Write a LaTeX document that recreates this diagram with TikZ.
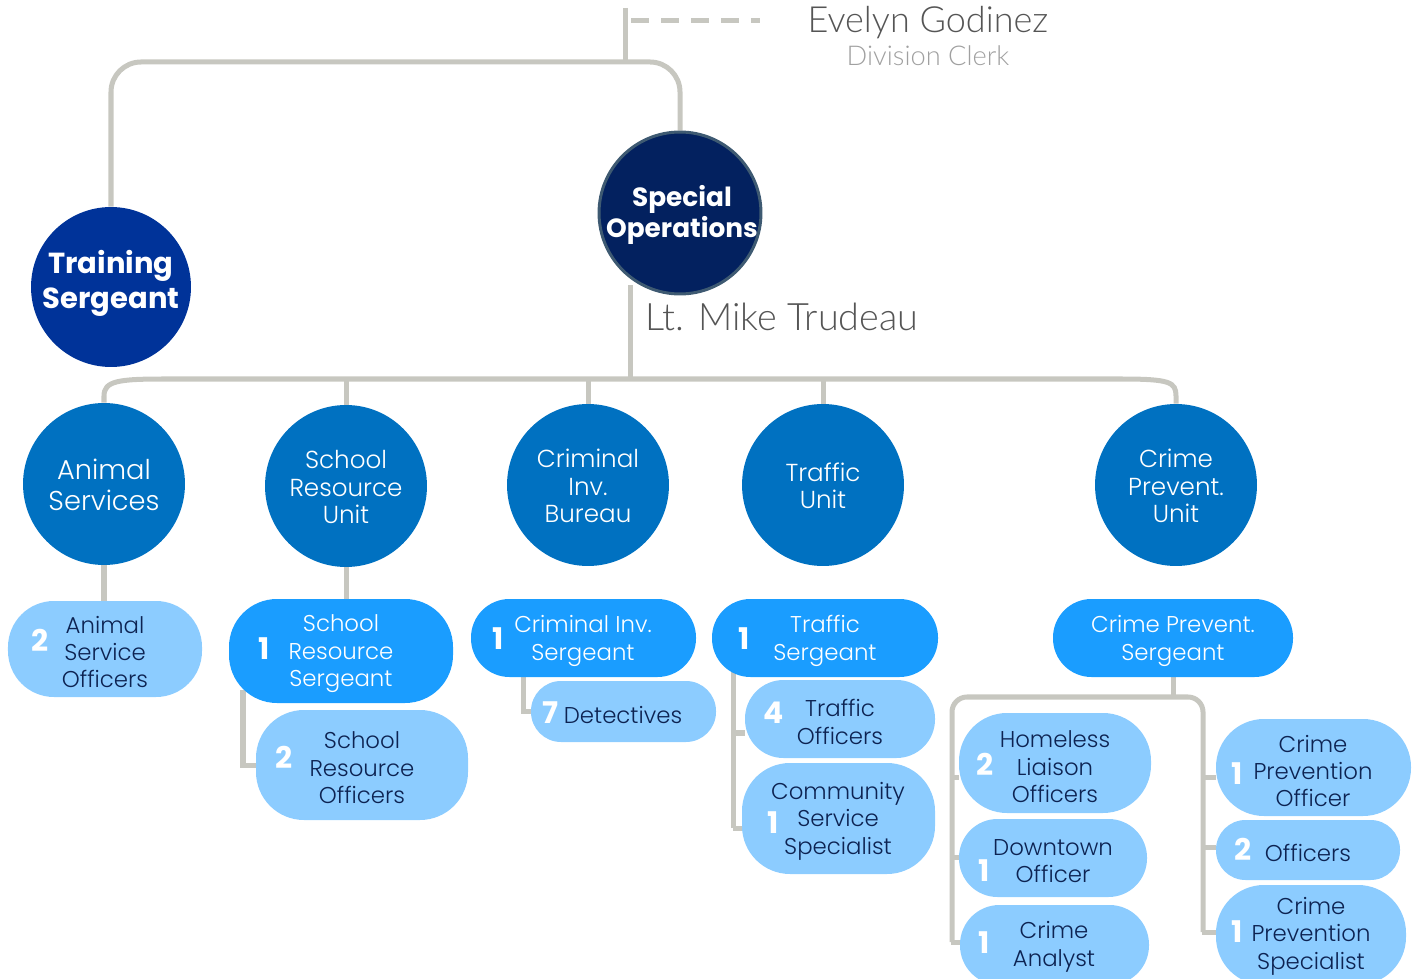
\documentclass[tikz,border=0pt]{standalone}
\usepackage{fontspec}
\setmainfont{Poppins}
\IfFontExistsTF{Poppins Light}{\newfontfamily\lightf{Poppins Light}}{\newfontfamily\lightf{Poppins}}
\IfFontExistsTF{Lato Light}{\newfontfamily\namef{Lato Light}}{\newfontfamily\namef{Lato}}
\newfontfamily\boldf{Poppins Bold}
\usetikzlibrary{backgrounds}
\definecolor{conncol}{RGB}{199,199,192}
\definecolor{trainblue}{RGB}{0,51,153}
\definecolor{sonavy}{RGB}{3,33,95}
\definecolor{soedge}{RGB}{62,90,114}
\definecolor{unitblue}{RGB}{0,113,193}
\definecolor{sgtblue}{RGB}{26,157,255}
\definecolor{offblue}{RGB}{140,204,255}
\definecolor{navytext}{RGB}{13,35,82}
\definecolor{greytext}{RGB}{85,85,85}
\definecolor{lightgrey}{RGB}{160,160,160}
\newcommand\mkpill[7]{%
  \pgfmathsetmacro\pcx{(#3+#4)/2}%
  \pgfmathsetmacro\pcy{(#5+#6)/2}%
  \pgfmathsetmacro\pw{(#4-#3)*0.02}%
  \pgfmathsetmacro\ph{(#6-#5)*0.02}%
  \pgfmathsetmacro\prad{min((#6-#5)/2-0.5,#7)*0.02}%
  \node[#2, minimum width=\pw cm, minimum height=\ph cm, rounded corners=\prad cm] (#1) at (\pcx,\pcy) {};}
\tikzset{
  conn/.style={draw=conncol, line width=2.85pt},
  unit/.style={circle, fill=unitblue, inner sep=0pt, minimum size=3.24cm},
  unittext/.style={text=white, align=center, font=\lightf\fontsize{14}{15.6}\selectfont},
  sgtpill/.style={rectangle, fill=sgtblue, inner sep=0pt},
  offpill/.style={rectangle, fill=offblue, inner sep=0pt},
  sgttext/.style={text=white, align=center, yshift=-0.06cm, font=\lightf\fontsize{13}{15.6}\selectfont},
  offtext/.style={text=navytext, align=center, yshift=-0.06cm, font=\lightf\fontsize{13}{15.6}\selectfont},
  num/.style={text=white, font=\boldf\fontsize{17}{18}\selectfont, inner sep=0pt},
}
\begin{document}
\begin{tikzpicture}[x=0.02cm,y=-0.02cm]
\useasboundingbox (0,0) rectangle (1416,979);

% top level
\node[circle, fill=trainblue, inner sep=0pt, minimum size=3.2cm] (ts) at (111,287) {};
\node[text=white, align=center, font=\boldf\fontsize{16.5}{20}\selectfont] (tst) at (111,283) {Training\\Sergeant};
\node[circle, fill=sonavy, draw=soedge, line width=1.7pt, inner sep=0pt, minimum size=3.24cm] (so) at (680,213) {};
\node[text=white, align=center, font=\boldf\fontsize{15}{18}\selectfont] (sot) at (682,215) {Special\\Operations};
\node[text=greytext, font=\namef\fontsize{21.5}{24}\selectfont, anchor=west, inner sep=0pt] (lt) at (645,317) {Lt. Mike Trudeau};
\node[text=greytext, font=\namef\fontsize{20.5}{24}\selectfont, inner sep=0pt] (ev) at (928,23) {Evelyn Godinez};
\node[text=lightgrey, font=\namef\fontsize{15.5}{18}\selectfont, inner sep=0pt] (dc) at (928,56) {Division Clerk};

% units
\node[unit] (as) at (104,484) {};
\node[text=white, align=center, font=\lightf\fontsize{15.5}{17.6}\selectfont] (ast) at (104,485) {Animal\\Services};
\node[unit] (sru) at (346,486) {};
\node[unittext] (srut) at (346,487) {School\\Resource\\Unit};
\node[unit] (cib) at (588,485) {};
\node[unittext] (cibt) at (588,486) {Criminal\\Inv.\\Bureau};
\node[unit] (tu) at (823,485) {};
\node[unittext] (tut) at (823,486) {Traffic\\Unit};
\node[unit] (cpu) at (1176,485) {};
\node[unittext] (cput) at (1176,486) {Crime\\Prevent.\\Unit};

% pills
\mkpill{ani}{offpill}{8}{202}{601}{697}{46}
\mkpill{srs}{sgtpill}{229}{453}{599}{703}{48}
\mkpill{sro}{offpill}{256}{468}{710}{820}{48}
\mkpill{cis}{sgtpill}{471}{696}{599}{677}{48}
\mkpill{det}{offpill}{531}{716}{681}{742}{48}
\mkpill{trs}{sgtpill}{712}{938}{599}{677}{48}
\mkpill{tro}{offpill}{745}{935}{680}{758}{48}
\mkpill{css}{offpill}{742}{935}{763}{874}{48}
\mkpill{cps}{sgtpill}{1053}{1293}{599}{677}{48}
\mkpill{hom}{offpill}{959}{1151}{713}{813}{48}
\mkpill{dto}{offpill}{959}{1147}{819}{897}{48}
\mkpill{can}{offpill}{960}{1149}{905}{985}{48}
\mkpill{cpo}{offpill}{1216}{1411}{719}{816}{48}
\mkpill{off}{offpill}{1216}{1400}{820}{880}{48}
\mkpill{cpsp}{offpill}{1216}{1406}{885}{985}{48}

% pill texts
\node[offtext] (anit) at (105,649) {Animal\\Service\\Officers};
\node[num] (anin) at (40,640) {2};
\node[sgttext] (srst) at (341,651) {School\\Resource\\Sergeant};
\node[num] (srsn) at (264,649) {1};
\node[offtext] (srot) at (362,765) {School\\Resource\\Officers};
\node[num] (sron) at (284,757) {2};
\node[sgttext] (cist) at (583,638) {Criminal Inv.\\Sergeant};
\node[num] (cisn) at (498,639) {1};
\node[offtext] (dett) at (623,712) {Detectives};
\node[num] (detn) at (550,713) {7};
\node[sgttext] (trst) at (825,638) {Traffic\\Sergeant};
\node[num] (trsn) at (744,639) {1};
\node[offtext] (trot) at (840,719) {Traffic\\Officers};
\node[num] (tron) at (774,713) {4};
\node[offtext] (csst) at (838,818) {Community\\Service\\Specialist};
\node[num] (cssn) at (773,823) {1};
\node[sgttext] (cpst) at (1173,638) {Crime Prevent.\\Sergeant};
\node[offtext] (homt) at (1055,764) {Homeless\\Liaison\\Officers};
\node[num] (homn) at (985,764) {2};
\node[offtext] (dtot) at (1053,858) {Downtown\\Officer};
\node[num] (dton) at (984,871) {1};
\node[offtext] (cant) at (1054,944) {Crime\\Analyst};
\node[num] (cann) at (984,943) {1};
\node[offtext] (cpot) at (1313,768) {Crime\\Prevention\\Officer};
\node[num] (cpon) at (1237,774) {1};
\node[offtext] (offt) at (1308,850) {Officers};
\node[num] (offn) at (1243,849) {2};
\node[offtext] (cpspt) at (1311,933) {Crime\\Prevention\\Specialist};
\node[num] (cpspn) at (1237,932) {1};

% coordinates
\coordinate (topc) at (625,8);
\coordinate (j1) at (625,62);
\coordinate (dsh1) at (631,21);
\coordinate (dsh2) at (760,21);
\coordinate (soleg) at (630,285);
\coordinate (j2) at (630,379);
\coordinate (e1) at (243,690);
\coordinate (e2) at (523,670);
\coordinate (e3) at (733,670);
\coordinate (e4) at (1173,697);

\begin{scope}[on background layer]
\draw[conn] (topc) -- (j1);
\draw[conn, dash pattern=on 0.36cm off 0.24cm] (dsh1) -- (dsh2);
\draw[conn, rounded corners=0.6cm] (ts.north) -- (ts.north |- j1) -- (so.north |- j1) -- (so.north);
\draw[conn] (soleg) -- (j2);
\draw[conn] (as.north) -- (104,396) .. controls (104,381) and (118,379) .. (165,379) -- (1120,379) .. controls (1170,379) and (1176,382) .. (1176,396) -- (cpu.north);
\draw[conn] (sru.north |- j2) -- (sru.north);
\draw[conn] (cib.north |- j2) -- (cib.north);
\draw[conn] (tu.north |- j2) -- (tu.north);
\draw[conn] (as.south) -- (as.south |- ani.north);
\draw[conn] (sru.south) -- (sru.south |- srs.north);
\draw[conn] (e1) |- (sro.west);
\draw[conn] (e2) |- (det.west);
\draw[conn] (e3) -- (733,828);
\draw[conn] (733,733) -- (tro.west |- 0,733);
\draw[conn] (733,828) -- (css.west |- 0,828);
\draw[conn] (cps.south) -- (e4);
\draw[conn, rounded corners=0.3cm] (952,942) -- (952,697) -- (1203,697) -- (1203,932);
\draw[conn] (952,777) -- (hom.west |- 0,777);
\draw[conn] (952,857) -- (dto.west |- 0,857);
\draw[conn] (950.6,942) -- (can.west |- 0,942);
\draw[conn] (1203,777) -- (cpo.west |- 0,777);
\draw[conn] (1203,847) -- (off.west |- 0,847);
\draw[conn] (1201.6,932) -- (cpsp.west |- 0,932);
\end{scope}
\end{tikzpicture}
\end{document}
